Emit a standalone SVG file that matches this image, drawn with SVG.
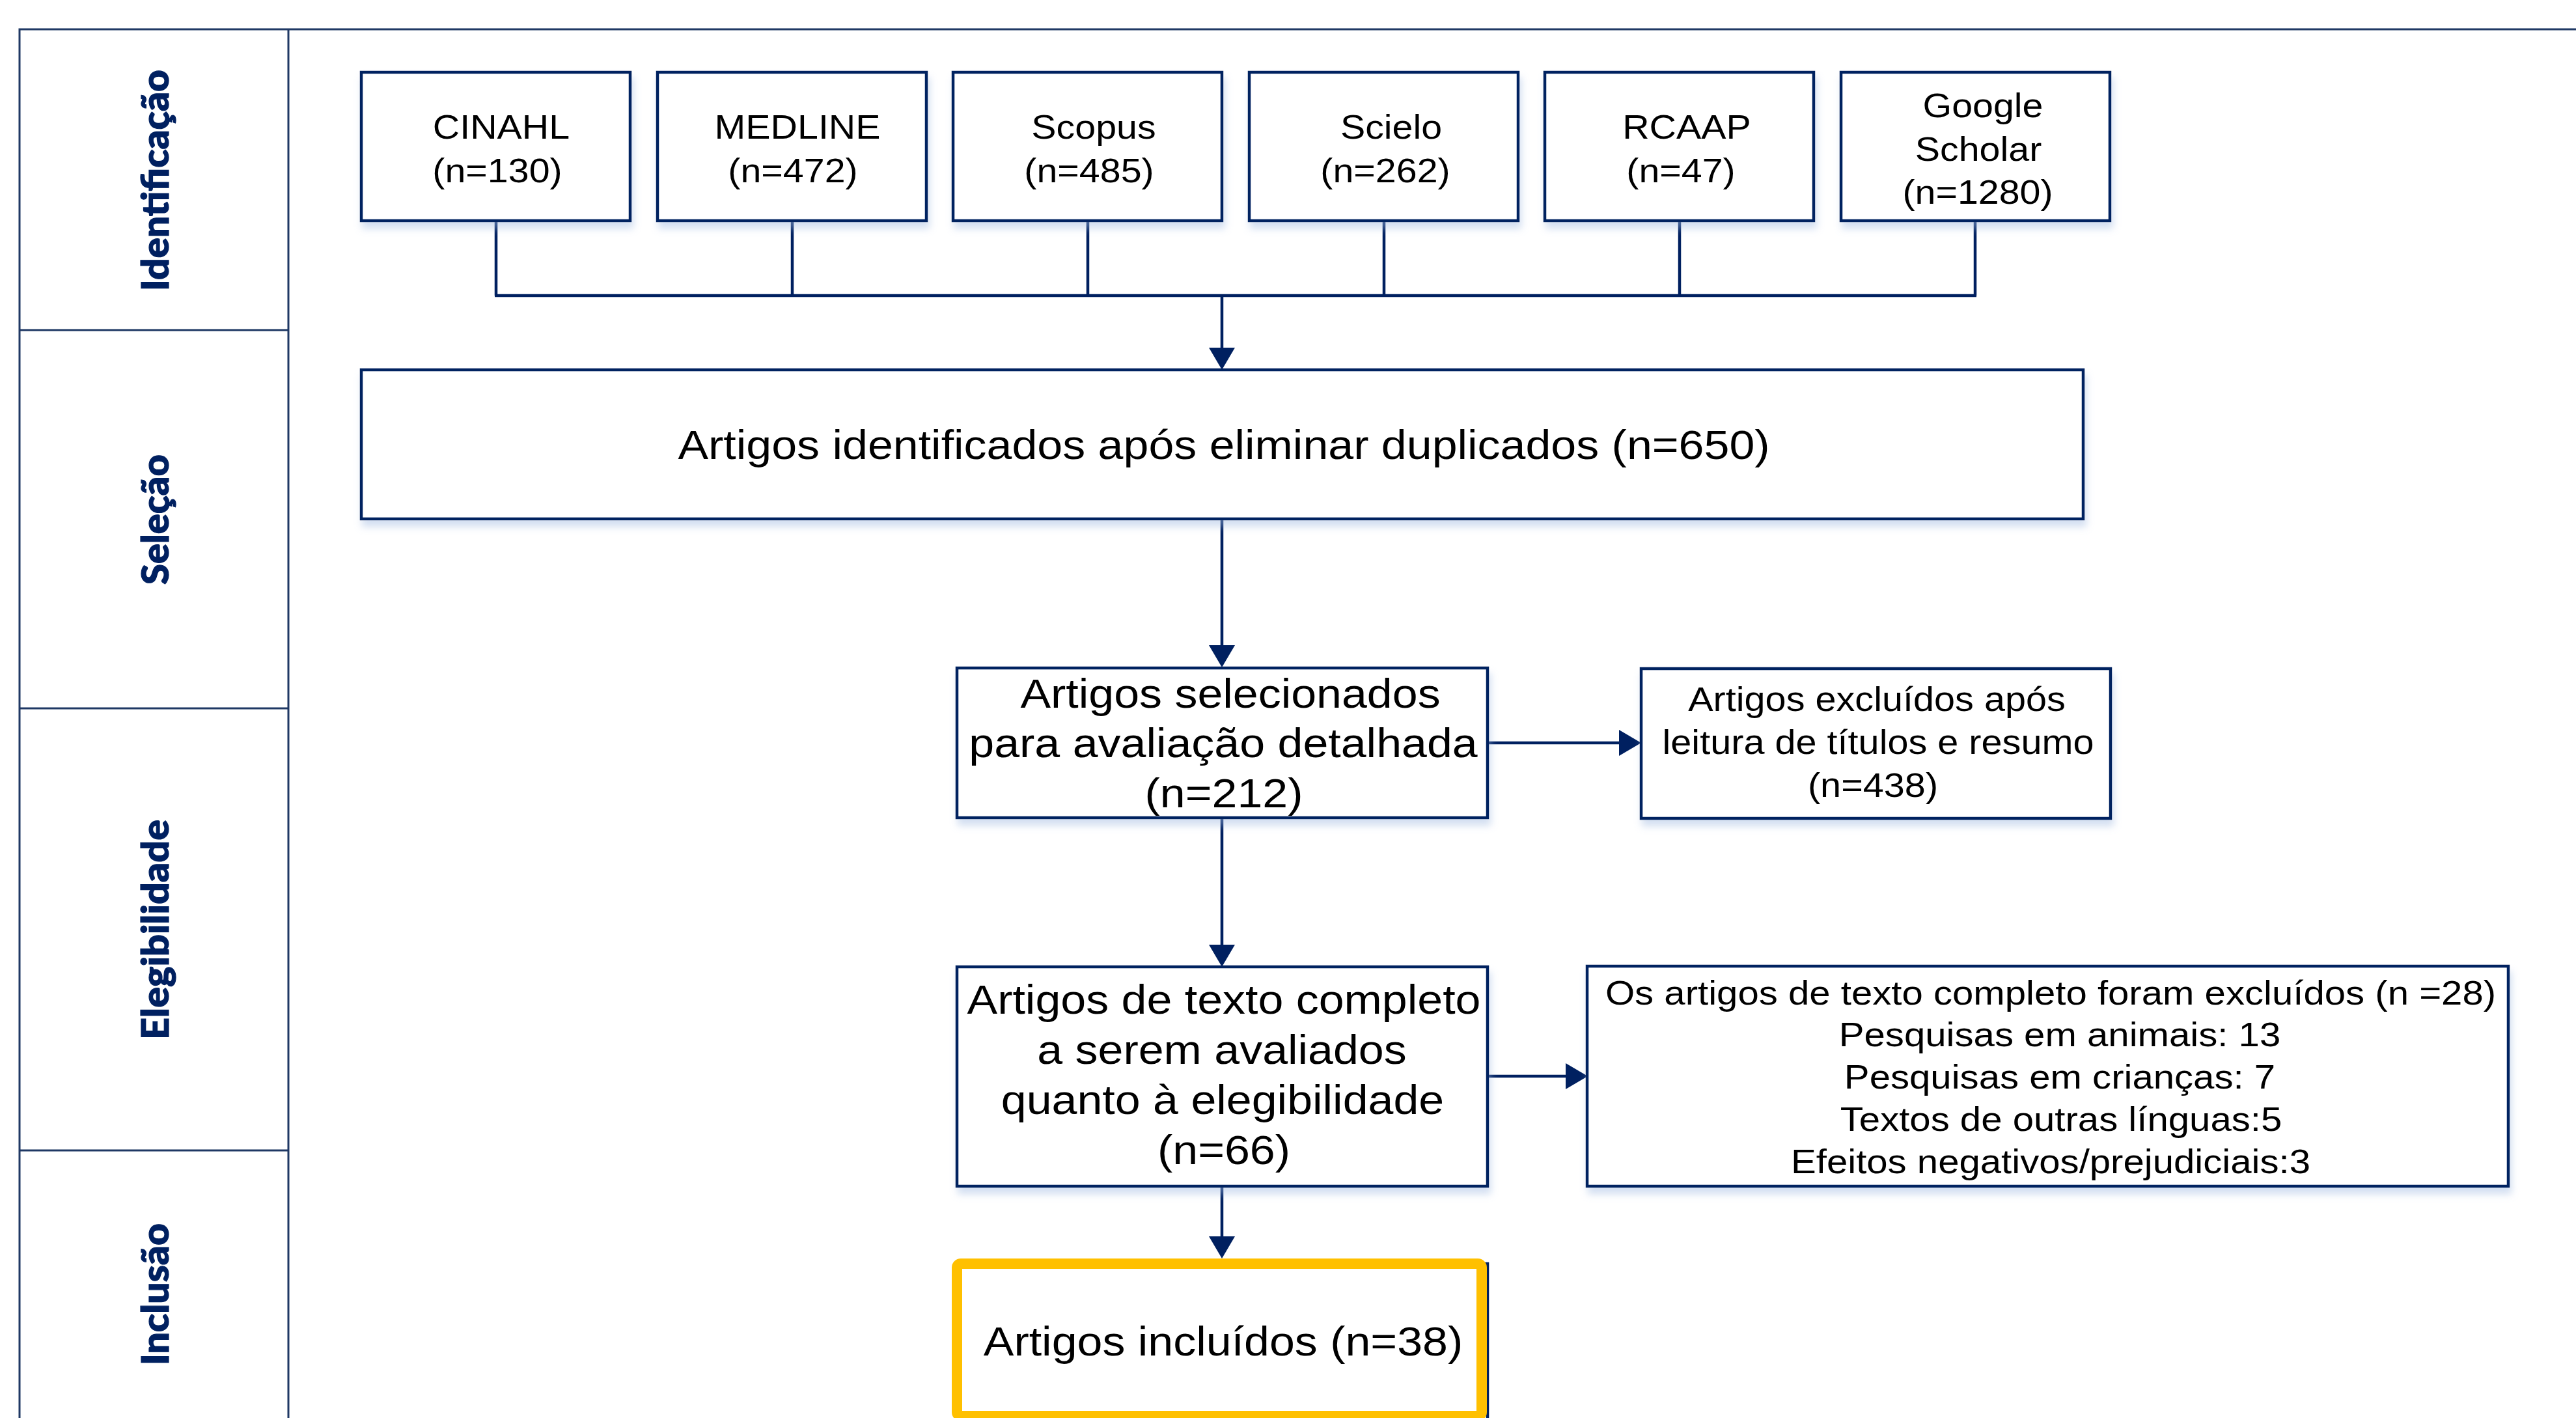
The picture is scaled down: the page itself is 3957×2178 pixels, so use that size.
<svg xmlns="http://www.w3.org/2000/svg" width="3957" height="2178" viewBox="0 0 3957 2178">
<style>
.box{fill:#fff;stroke:#002060;stroke-width:4.5}
.conn{fill:none;stroke:#002060;stroke-width:4.5}
.s{font-family:"Liberation Sans",Arial,sans-serif;font-size:51px;fill:#000;text-anchor:middle}
.l{font-family:"Liberation Sans",Arial,sans-serif;font-size:63px;fill:#000;text-anchor:middle}
.lane{font-family:Lato,"Liberation Sans",sans-serif;font-weight:900;font-size:58px;fill:#002060;stroke:#002060;stroke-width:1.2;text-anchor:middle}
</style>
<defs>
<filter id="sh" x="-5%" y="-10%" width="115%" height="135%">
<feDropShadow dx="3" dy="10" stdDeviation="6" flood-color="#9db8e0" flood-opacity="0.45"/>
</filter>
<marker id="ah" viewBox="0 0 34 40" markerWidth="34" markerHeight="40" refX="26" refY="20" orient="auto" markerUnits="userSpaceOnUse">
<path d="M0 0 L34 20 L0 40 Z" fill="#002060"/>
</marker>
</defs>
<rect width="3957" height="2178" fill="#fff"/>
<g id="frame">
<path d="M30 2178 V45 H3957 M443 45 V2178 M30 507 H443 M30 1088 H443 M30 1767 H443" fill="none" stroke="#1f3864" stroke-width="3"/>
<text class="lane" transform="translate(259 277) rotate(-90)" textLength="340" lengthAdjust="spacingAndGlyphs">Identificação</text>
<text class="lane" transform="translate(259 798) rotate(-90)" textLength="200" lengthAdjust="spacingAndGlyphs">Seleção</text>
<text class="lane" transform="translate(259 1428) rotate(-90)" textLength="338" lengthAdjust="spacingAndGlyphs">Elegibilidade</text>
<text class="lane" transform="translate(259 1988) rotate(-90)" textLength="218" lengthAdjust="spacingAndGlyphs">Inclusão</text>
</g>
<g id="connectors">
<path class="conn" d="M762 339 V454 M1217 339 V454 M1671 339 V454 M2126 339 V454 M2580 339 V454 M3034 339 V454 M760 454 H3036"/>
<path class="conn" d="M1877 454 V560" marker-end="url(#ah)"/>
<path class="conn" d="M1877 797 V1017" marker-end="url(#ah)"/>
<path class="conn" d="M2285 1141 H2513" marker-end="url(#ah)"/>
<path class="conn" d="M1877 1256 V1477" marker-end="url(#ah)"/>
<path class="conn" d="M2285 1653 H2431" marker-end="url(#ah)"/>
<path class="conn" d="M1877 1822 V1925" marker-end="url(#ah)"/>
</g>
<g id="cinahl">
<rect class="box" filter="url(#sh)" x="555" y="111" width="413" height="228"/>
<text class="s" transform="translate(770 213) scale(1.125 1)">CINAHL</text>
<text class="s" transform="translate(764 280) scale(1.125 1)">(n=130)</text>
</g>
<g id="medline">
<rect class="box" filter="url(#sh)" x="1010" y="111" width="413" height="228"/>
<text class="s" transform="translate(1225 213) scale(1.125 1)">MEDLINE</text>
<text class="s" transform="translate(1218 280) scale(1.125 1)">(n=472)</text>
</g>
<g id="scopus">
<rect class="box" filter="url(#sh)" x="1464" y="111" width="413" height="228"/>
<text class="s" transform="translate(1680 213) scale(1.125 1)">Scopus</text>
<text class="s" transform="translate(1673 280) scale(1.125 1)">(n=485)</text>
</g>
<g id="scielo">
<rect class="box" filter="url(#sh)" x="1919" y="111" width="413" height="228"/>
<text class="s" transform="translate(2137 213) scale(1.125 1)">Scielo</text>
<text class="s" transform="translate(2128 280) scale(1.125 1)">(n=262)</text>
</g>
<g id="rcaap">
<rect class="box" filter="url(#sh)" x="2373" y="111" width="413" height="228"/>
<text class="s" transform="translate(2591 213) scale(1.125 1)">RCAAP</text>
<text class="s" transform="translate(2582 280) scale(1.125 1)">(n=47)</text>
</g>
<g id="google">
<rect class="box" filter="url(#sh)" x="2828" y="111" width="413" height="228"/>
<text class="s" transform="translate(3046 180) scale(1.125 1)">Google</text>
<text class="s" transform="translate(3039 247) scale(1.125 1)">Scholar</text>
<text class="s" transform="translate(3038 313) scale(1.125 1)">(n=1280)</text>
</g>
<g id="identificados">
<rect class="box" filter="url(#sh)" x="555" y="568" width="2645" height="229"/>
<text class="l" transform="translate(1880 705) scale(1.11 1)">Artigos identificados após eliminar duplicados (n=650)</text>
</g>
<g id="selecionados">
<rect class="box" filter="url(#sh)" x="1470" y="1026" width="815" height="230"/>
<text class="l" transform="translate(1890 1087) scale(1.11 1)">Artigos selecionados</text>
<text class="l" transform="translate(1879 1163) scale(1.11 1)">para avaliação detalhada</text>
<text class="l" transform="translate(1880 1240) scale(1.11 1)">(n=212)</text>
</g>
<g id="excluidos1">
<rect class="box" filter="url(#sh)" x="2521" y="1027" width="721" height="230"/>
<text class="s" transform="translate(2883 1092) scale(1.13 1)">Artigos excluídos após</text>
<text class="s" transform="translate(2885 1158) scale(1.13 1)">leitura de títulos e resumo</text>
<text class="s" transform="translate(2877 1224) scale(1.13 1)">(n=438)</text>
</g>
<g id="textocompleto">
<rect class="box" filter="url(#sh)" x="1470" y="1485" width="815" height="337"/>
<text class="l" transform="translate(1880 1557) scale(1.11 1)">Artigos de texto completo</text>
<text class="l" transform="translate(1877 1634) scale(1.11 1)">a serem avaliados</text>
<text class="l" transform="translate(1878 1711) scale(1.11 1)">quanto à elegibilidade</text>
<text class="l" transform="translate(1880 1788) scale(1.11 1)">(n=66)</text>
</g>
<g id="excluidos2">
<rect class="box" filter="url(#sh)" x="2438" y="1484" width="1415" height="338"/>
<text class="s" transform="translate(3150 1543) scale(1.14 1)">Os artigos de texto completo foram excluídos (n =28)</text>
<text class="s" transform="translate(3164 1607) scale(1.14 1)">Pesquisas em animais: 13</text>
<text class="s" transform="translate(3164 1672) scale(1.14 1)">Pesquisas em crianças: 7</text>
<text class="s" transform="translate(3166 1737) scale(1.14 1)">Textos de outras línguas:5</text>
<text class="s" transform="translate(3150 1802) scale(1.14 1)">Efeitos negativos/prejudiciais:3</text>
</g>
<g id="incluidos">
<rect class="box" x="1469" y="1941" width="816" height="260"/>
<rect x="1470" y="1941" width="806" height="234" rx="6" fill="#fff" stroke="#FFC000" stroke-width="16"/>
<text class="l" transform="translate(1879 2082) scale(1.11 1)">Artigos incluídos (n=38)</text>
</g>
</svg>
